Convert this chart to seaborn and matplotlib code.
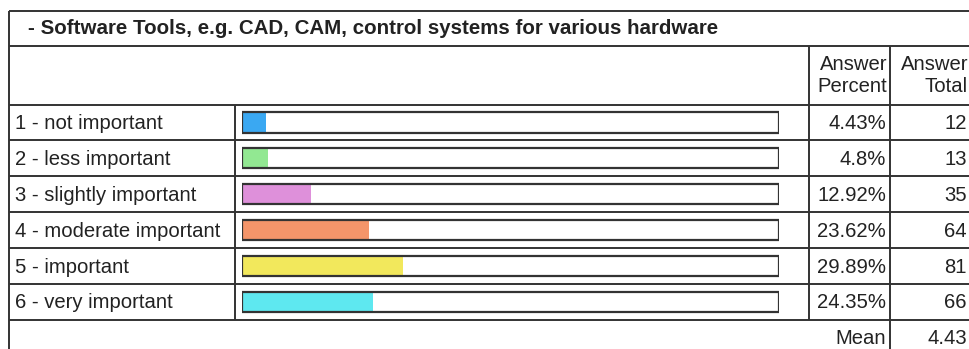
import matplotlib
matplotlib.use("Agg")
import matplotlib.pyplot as plt
import seaborn as sns
import pandas as pd

title = "- Software Tools, e.g. CAD, CAM, control systems for various hardware"
labels = ["1 - not important", "2 - less important", "3 - slightly important",
          "4 - moderate important", "5 - important", "6 - very important"]
percents = [4.43, 4.8, 12.92, 23.62, 29.89, 24.35]
percent_text = ["4.43%", "4.8%", "12.92%", "23.62%", "29.89%", "24.35%"]
totals = [12, 13, 35, 64, 81, 66]
mean_value = "4.43"
colors = ["#3aa8f2", "#92e892", "#de90da", "#f4956a", "#f2e85c", "#5ee8f0"]

df = pd.DataFrame({"label": labels, "percent": percents, "full": [100] * len(labels)})

sns.set_theme(style="white")
plt.rcParams["font.family"] = ["Liberation Sans", "DejaVu Sans"]

W, H = 969, 349
fig = plt.figure(figsize=(W / 100, H / 100), dpi=100)

# overlay in pixel coordinates for table lines and text
tab = fig.add_axes([0, 0, 1, 1])
tab.set_xlim(0, W)
tab.set_ylim(H, 0)
tab.axis("off")

lc = "#333333"
lw = 1.4
row0 = 104.5
rh = 35.9
row_lines = [row0 + rh * i for i in range(7)]

tab.hlines([11, 46], 9, W, color=lc, lw=lw)
tab.hlines(row_lines, 9, W, color=lc, lw=lw)
tab.vlines(9, 11, H, color=lc, lw=lw)
tab.vlines(235, row_lines[0], row_lines[-1], color=lc, lw=lw)
tab.vlines(809, 46, row_lines[-1], color=lc, lw=lw)
tab.vlines(890, 46, H, color=lc, lw=lw)

fs = 14.6
tc = "#222222"
tab.text(28, 28.5, title, fontsize=14.75, fontweight="bold", color=tc, va="center", ha="left")
tab.text(887, 64, "Answer", fontsize=fs, color=tc, va="center", ha="right")
tab.text(887, 86, "Percent", fontsize=fs, color=tc, va="center", ha="right")
tab.text(968, 64, "Answer", fontsize=fs, color=tc, va="center", ha="right")
tab.text(968, 86, "Total", fontsize=fs, color=tc, va="center", ha="right")

for i, lab in enumerate(labels):
    yc = row0 + rh * i + rh / 2 + 1
    tab.text(15, yc, lab, fontsize=fs, color=tc, va="center", ha="left")
    tab.text(886, yc, percent_text[i], fontsize=fs, color=tc, va="center", ha="right")
    tab.text(967, yc, str(totals[i]), fontsize=fs, color=tc, va="center", ha="right")

tab.text(886, 338, "Mean", fontsize=fs, color=tc, va="center", ha="right")
tab.text(967, 338, mean_value, fontsize=fs, color=tc, va="center", ha="right")

# bar column
bx0, bx1 = 242, 779
ax = fig.add_axes([bx0 / W, (H - row_lines[-1]) / H, (bx1 - bx0) / W, (row_lines[-1] - row_lines[0]) / H])
ax.patch.set_alpha(0)
sns.barplot(data=df, x="full", y="label", color="white", saturation=1, width=0.56, ax=ax)
sns.barplot(data=df, x="percent", y="label", hue="label", palette=colors, legend=False,
            saturation=1, width=0.56, linewidth=0, ax=ax)
sns.barplot(data=df, x="full", y="label", fill=False, edgecolor=lc, linewidth=1.6,
            width=0.56, ax=ax)
ax.set_xlim(0, 100)
ax.set_ylim(len(labels) - 0.5, -0.5)
ax.axis("off")

fig.savefig("out.png", dpi=100)
